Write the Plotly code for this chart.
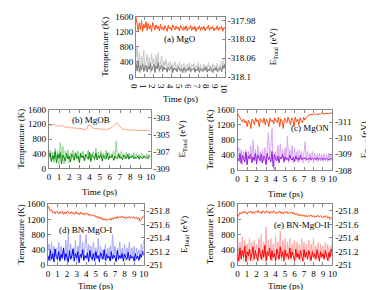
import numpy as np
import plotly.graph_objects as go

# ---------------- data ----------------
# (a) MgO
a_temp_light = [500, 800, 250, 650, 100, 550, 300, 700, 150, 480, 600, 200, 520, 90, 620, 350, 480, 180, 580, 250, 640, 120, 450, 560, 200, 420, 300, 470, 150, 380, 260, 420, 90, 350, 300, 400, 160, 320, 250, 380, 120, 330, 280, 360, 100, 300, 340, 180, 380, 140, 320, 260, 350, 110, 300, 230, 380, 150, 330, 270, 120, 340, 220, 300, 160, 380, 200, 310, 130, 350, 250, 290, 180, 360, 120, 300, 260, 420, 200, 480, 520]
a_temp_dark = [380, 150, 420, 120, 300, 180, 350, 140, 260, 310, 130, 280, 200, 360, 150, 240, 330, 110, 290, 210, 380, 160, 250, 300, 140, 270, 190, 230, 120, 260, 170, 220, 280, 110, 240, 180, 210, 130, 260, 200, 150, 230, 110, 250, 190, 140, 220, 170, 260, 120, 210, 180, 240, 130, 200, 160, 250, 110, 220, 190, 140, 230, 170, 260, 120, 200, 150, 240, 180, 110, 220, 170, 250, 140, 200, 180, 260, 130, 300, 220, 350]
a_energy = [-317.973, -317.990, -318.002, -317.985, -317.999, -317.980, -318.003, -317.988, -317.996, -317.982, -318.001, -317.986, -317.998, -317.990, -318.003, -317.984, -317.995, -318.000, -317.989, -317.997, -317.992, -318.002, -317.988, -317.999, -317.993, -318.001, -317.991, -317.997, -318.003, -317.990, -317.998, -317.994, -318.002, -317.989, -317.996, -318.000, -317.992, -317.998, -317.994, -318.002, -317.990, -317.997, -318.001, -317.993, -317.999, -317.991, -318.002, -317.995, -317.998, -317.990, -318.001, -317.994, -317.999, -317.992, -318.003, -317.995, -317.998, -317.991, -318.001, -317.994, -317.999, -317.992, -318.002, -317.995, -317.997, -317.990, -318.001, -317.994, -317.998, -317.993, -318.002, -317.996, -317.999, -317.991, -318.001, -317.994, -317.998, -317.992, -318.003, -317.995, -317.997]

# (b) MgOB
b_temp_light = [350, 500, 200, 450, 150, 550, 250, 480, 100, 700, 300, 600, 120, 480, 350, 500, 150, 420, 380, 500, 200, 450, 320, 480, 250, 430, 380, 470, 200, 400, 350, 500, 250, 420, 330, 460, 220, 550, 300, 440, 260, 480, 320, 420, 250, 500, 330, 450, 280, 400, 350, 470, 260, 750, 300, 420, 270, 460, 330, 400, 250, 450, 300, 420, 280, 380, 330, 430, 260, 400, 320, 380, 280, 420, 300, 360, 270, 400, 320, 380, 330]
b_temp_dark = [300, 420, 180, 350, 250, 460, 150, 380, 280, 430, 120, 360, 300, 200, 410, 260, 340, 180, 390, 300, 230, 420, 270, 330, 160, 400, 290, 350, 210, 380, 320, 250, 440, 190, 360, 300, 260, 410, 230, 340, 290, 380, 200, 350, 310, 260, 420, 240, 330, 290, 370, 220, 340, 300, 260, 390, 280, 320, 240, 360, 300, 270, 380, 250, 330, 290, 350, 260, 310, 280, 340, 250, 320, 300, 270, 330, 290, 310, 260, 340, 300]
b_energy = [-303.95, -303.80, -303.90, -303.75, -303.85, -303.95, -303.90, -304.05, -303.85, -304.00, -304.10, -304.05, -304.15, -304.10, -304.20, -304.15, -304.22, -304.18, -304.26, -304.22, -304.28, -304.25, -304.32, -304.38, -304.30, -303.80, -303.95, -304.15, -304.25, -304.22, -304.30, -304.27, -304.33, -304.30, -304.36, -304.32, -304.38, -304.34, -304.30, -304.20, -304.05, -303.85, -303.70, -303.55, -303.80, -304.10, -304.28, -304.35, -304.40, -304.38, -304.42, -304.45, -304.43, -304.46, -304.44, -304.47, -304.45, -304.48, -304.46, -304.49, -304.47, -304.50, -304.48, -304.50, -304.49]

# (c) MgON
c_temp_light = [450, 600, 200, 550, 150, 500, 250, 550, 150, 500, 300, 650, 200, 800, 250, 550, 150, 650, 300, 500, 200, 550, 250, 600, 150, 500, 1000, 300, 600, 1100, 100, 0, 500, 250, 650, 200, 700, 300, 550, 200, 600, 250, 900, 200, 550, 300, 650, 200, 600, 250, 500, 200, 550, 300, 500, 200, 600, 750, 250, 500, 200, 450, 250, 500, 200, 450, 250, 420, 220, 450, 250, 420, 230, 440, 250, 420, 230, 450, 250, 420, 300]
c_temp_dark = [350, 250, 450, 180, 400, 300, 220, 480, 150, 380, 300, 420, 200, 350, 260, 450, 180, 400, 300, 250, 430, 200, 380, 320, 150, 450, 280, 350, 220, 500, 100, 420, 300, 250, 380, 200, 350, 300, 420, 230, 360, 280, 330, 250, 400, 300, 270, 350, 230, 380, 290, 330, 260, 400, 280, 320, 300, 340, 270, 310, 290, 330, 280, 320, 300, 310, 280, 330, 290, 300, 320, 280, 310, 300, 290, 320, 300, 280, 310, 300, 290]
c_energy = [-311.54, -311.43, -311.26, -311.12, -311.02, -311.19, -310.95, -311.07, -310.72, -311.12, -311.02, -310.60, -311.19, -311.07, -310.84, -311.26, -311.02, -311.14, -310.72, -311.21, -311.07, -310.95, -311.26, -310.84, -311.17, -311.07, -310.72, -311.24, -311.02, -311.14, -310.88, -311.26, -311.07, -310.98, -311.31, -310.72, -311.19, -311.07, -310.60, -311.26, -311.12, -310.95, -311.31, -311.07, -310.84, -311.26, -311.14, -310.72, -311.31, -311.02, -311.19, -310.84, -311.26, -311.07, -310.95, -311.31, -311.12, -311.26, -311.35, -311.43, -311.45, -311.47, -311.45, -311.50, -311.47, -311.52, -311.50, -311.47, -311.52, -311.50, -311.54, -311.52, -311.50, -311.54, -311.52, -311.54, -311.52, -311.57, -311.54, -311.54]

# (d) BN-MgO-I
d_temp_light = [400, 550, 100, 600, 150, 500, 250, 450, 100, 600, 200, 500, 150, 450, 250, 650, 100, 800, 200, 550, 150, 450, 250, 650, 100, 500, 300, 800, 150, 600, 200, 450, 800, 150, 550, 200, 500, 100, 600, 250, 450, 150, 700, 200, 500, 150, 400, 250, 550, 100, 450, 200, 500, 150, 800, 200, 500, 150, 450, 250, 600, 150, 450, 200, 550, 100, 450, 250, 600, 150, 450, 200, 500, 100, 450, 250, 400, 150, 550, 300, 650]
d_temp_dark = [250, 120, 380, 150, 300, 80, 420, 200, 150, 350, 100, 280, 180, 450, 120, 300, 200, 80, 380, 150, 250, 420, 100, 300, 180, 350, 60, 280, 200, 400, 120, 250, 180, 320, 90, 380, 200, 150, 300, 100, 350, 180, 250, 80, 320, 200, 150, 400, 120, 280, 180, 230, 100, 350, 160, 260, 200, 90, 380, 150, 250, 180, 300, 100, 280, 200, 150, 330, 120, 260, 180, 220, 100, 300, 160, 240, 120, 280, 200, 350, 250]
d_energy = [-251.872, -251.833, -251.799, -251.816, -251.776, -251.788, -251.759, -251.799, -251.776, -251.754, -251.788, -251.765, -251.793, -251.748, -251.782, -251.759, -251.799, -251.771, -251.754, -251.788, -251.765, -251.776, -251.748, -251.788, -251.759, -251.771, -251.743, -251.782, -251.754, -251.765, -251.737, -251.771, -251.748, -251.759, -251.731, -251.754, -251.726, -251.743, -251.720, -251.731, -251.703, -251.726, -251.692, -251.709, -251.675, -251.698, -251.664, -251.686, -251.658, -251.681, -251.669, -251.692, -251.664, -251.698, -251.675, -251.709, -251.686, -251.720, -251.692, -251.714, -251.703, -251.726, -251.698, -251.714, -251.686, -251.709, -251.698, -251.720, -251.692, -251.709, -251.703, -251.714, -251.686, -251.703, -251.675, -251.698, -251.647, -251.675, -251.709, -251.731]

# (e) BN-MgO-II
e_temp_light = [700, 150, 600, 200, 750, 100, 650, 300, 550, 150, 700, 200, 600, 100, 650, 250, 550, 150, 700, 200, 800, 100, 600, 250, 1000, 150, 650, 200, 700, 100, 550, 250, 750, 150, 600, 200, 900, 100, 650, 250, 700, 150, 600, 200, 700, 100, 550, 250, 650, 150, 600, 200, 550, 100, 700, 250, 600, 150, 550, 200, 650, 100, 550, 250, 700, 150, 500, 200, 600, 100, 550, 250, 500, 150, 600, 200, 550, 100, 500, 250, 800]
e_temp_dark = [300, 100, 450, 150, 380, 200, 500, 80, 350, 250, 420, 120, 300, 480, 150, 380, 220, 100, 450, 280, 150, 400, 200, 520, 100, 350, 250, 450, 130, 380, 200, 300, 100, 420, 250, 150, 480, 200, 350, 100, 400, 220, 300, 150, 450, 180, 350, 250, 100, 420, 200, 300, 150, 380, 230, 100, 400, 200, 330, 150, 380, 250, 120, 350, 200, 300, 150, 400, 230, 100, 350, 200, 300, 150, 380, 220, 120, 330, 200, 420, 300]
e_energy = [-251.703, -251.743, -251.776, -251.754, -251.788, -251.765, -251.799, -251.771, -251.754, -251.788, -251.776, -251.799, -251.765, -251.788, -251.759, -251.793, -251.776, -251.810, -251.771, -251.788, -251.759, -251.799, -251.782, -251.765, -251.804, -251.776, -251.788, -251.759, -251.793, -251.771, -251.804, -251.776, -251.759, -251.788, -251.771, -251.799, -251.765, -251.782, -251.754, -251.788, -251.771, -251.793, -251.759, -251.782, -251.765, -251.788, -251.754, -251.776, -251.743, -251.765, -251.731, -251.754, -251.726, -251.748, -251.720, -251.743, -251.714, -251.737, -251.709, -251.731, -251.720, -251.743, -251.714, -251.731, -251.703, -251.726, -251.714, -251.737, -251.709, -251.731, -251.720, -251.698, -251.726, -251.709, -251.731, -251.692, -251.714, -251.675, -251.698, -251.709]

panel_labels = ["(a) MgO", "(b) MgOB", "(c) MgON", "(d) BN-MgO-I", "(e) BN-MgO-II"]
temp_ticks = [0, 400, 800, 1200, 1600]
time_ticks = list(range(0, 11))
e_ticks = [
    [-318.1, -318.06, -318.02, -317.98],
    [-309, -307, -305, -303],
    [-311, -310, -309, -308],
    [-251.8, -251.6, -251.4, -251.2, -251],
    [-251.8, -251.6, -251.4, -251.2, -251],
]
e_ticktext = [
    ["-318.1", "-318.06", "-318.02", "-317.98"],
    ["-309", "-307", "-305", "-303"],
    ["-311", "-310", "-309", "-308"],
    ["-251.8", "-251.6", "-251.4", "-251.2", "-251"],
    ["-251.8", "-251.6", "-251.4", "-251.2", "-251"],
]
e_ranges = [[-318.1, -317.972], [-309, -302], [-308, -311.78], [-251, -251.9], [-251, -251.9]]

temps_light = [a_temp_light, b_temp_light, c_temp_light, d_temp_light, e_temp_light]
temps_dark = [a_temp_dark, b_temp_dark, c_temp_dark, d_temp_dark, e_temp_dark]
energies = [a_energy, b_energy, c_energy, d_energy, e_energy]

# ---------------- styling / layout ----------------
W, H = 374, 290
light_cols = ["#c6c6c6", "#8fd08f", "#d9a6f2", "#a8a8ff", "#ffa8a8"]
dark_cols = ["#7a7a7a", "#0a8a0a", "#9a1ee0", "#0000ff", "#ff0000"]
e_cols = ["#ff4a14", "#ff8a5c", "#ff4a14", "#ff4a14", "#ff4a14"]

# plot boxes in pixels: (left, right, top, bottom)
boxes = [(125, 217, 4, 66), (35, 140, 100, 161), (230, 328, 100, 163),
         (34, 133, 198, 261), (230, 328, 198, 261)]
# text positions in pixels
label_pos = [(170, 27), (79, 111), (305, 119), (73, 225), (297, 220)]
temp_title_x = [93, 6, 201, 6, 201]
e_title_x = [267, 173, 362, 175, 367]
time_title_y = [89, 185, 187, 283, 283]

FONT = "Liberation Serif, Times New Roman, serif"
fig = go.Figure()
layout = dict(width=W, height=H, margin=dict(l=0, r=0, t=0, b=0),
              paper_bgcolor="white", plot_bgcolor="white", showlegend=False,
              font=dict(family=FONT, size=9, color="black"))
annotations = []

def px(x):
    return x / W

def py(y):
    return 1 - y / H

axis_line = "#888888"
for k in range(5):
    i = k + 1
    xa = "x" if i == 1 else f"x{i}"
    ya_l = "y" if i == 1 else f"y{2 * i - 1}"
    ya_r = f"y{2 * i}"
    L, R, T, B = boxes[k]
    t1 = np.linspace(0, 10, len(temps_light[k]))
    t2 = np.linspace(0, 10, len(temps_dark[k]))
    t3 = np.linspace(0, 10, len(energies[k]))
    fig.add_trace(go.Scatter(x=t1, y=temps_light[k], mode="lines", xaxis=xa, yaxis=ya_l,
                             line=dict(color=light_cols[k], width=1)))
    fig.add_trace(go.Scatter(x=t2, y=temps_dark[k], mode="lines", xaxis=xa, yaxis=ya_l,
                             line=dict(color=dark_cols[k], width=1)))
    fig.add_trace(go.Scatter(x=t3, y=energies[k], mode="lines", xaxis=xa, yaxis=ya_r,
                             line=dict(color=e_cols[k], width=1 if k != 1 else 0.8)))

    xkey = "xaxis" if i == 1 else f"xaxis{i}"
    ylkey = "yaxis" if i == 1 else f"yaxis{2 * i - 1}"
    yrkey = f"yaxis{2 * i}"
    layout[xkey] = dict(domain=[px(L), px(R)], anchor=ya_l, range=[0, 10],
                        tickvals=time_ticks, ticks="inside", ticklen=3, tickcolor=axis_line,
                        showline=True, linecolor=axis_line, linewidth=1, mirror="ticks",
                        showgrid=False, zeroline=False, tickfont=dict(size=9, family=FONT))
    layout[ylkey] = dict(domain=[py(B), py(T)], anchor=xa, range=[0, 1600],
                         tickvals=temp_ticks, ticks="inside", ticklen=3, tickcolor=axis_line,
                         showline=True, linecolor=axis_line, linewidth=1, mirror=False,
                         showgrid=False, zeroline=False, tickfont=dict(size=9, family=FONT))
    layout[yrkey] = dict(domain=[py(B), py(T)], anchor=xa, overlaying=ya_l, side="right",
                         range=e_ranges[k], tickvals=e_ticks[k], ticktext=e_ticktext[k],
                         ticks="inside", ticklen=3, tickcolor=axis_line,
                         showline=True, linecolor=axis_line, linewidth=1,
                         showgrid=False, zeroline=False, tickfont=dict(size=9, family=FONT))

    cy = (T + B) / 2
    annotations.append(dict(text=panel_labels[k], x=px(label_pos[k][0]), y=py(label_pos[k][1]),
                            xref="paper", yref="paper", showarrow=False,
                            font=dict(size=9, family=FONT), xanchor="center", yanchor="middle"))
    annotations.append(dict(text="Temperature (K)", x=px(temp_title_x[k]), y=py(cy),
                            xref="paper", yref="paper", showarrow=False, textangle=-90,
                            font=dict(size=9, family=FONT), xanchor="center", yanchor="middle"))
    annotations.append(dict(text="E<sub>Total</sub> (eV)", x=px(e_title_x[k]), y=py(cy),
                            xref="paper", yref="paper", showarrow=False, textangle=-90,
                            font=dict(size=9, family=FONT), xanchor="center", yanchor="middle"))
    annotations.append(dict(text="Time (ps)", x=px((L + R) / 2), y=py(time_title_y[k]),
                            xref="paper", yref="paper", showarrow=False,
                            font=dict(size=9, family=FONT), xanchor="center", yanchor="middle"))

layout["annotations"] = annotations
fig.update_layout(**layout)
fig.write_html("out.html")
